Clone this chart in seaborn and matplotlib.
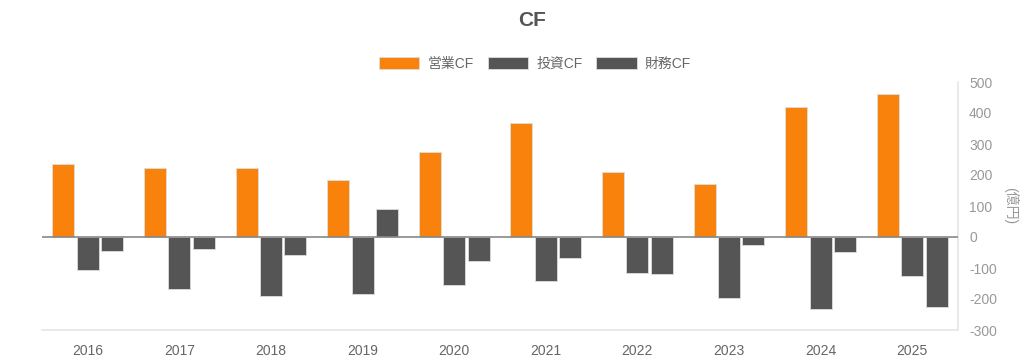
import numpy as np
import pandas as pd
import matplotlib
matplotlib.use("Agg")
import matplotlib.pyplot as plt
import seaborn as sns

# values (億円)
years = ["2016", "2017", "2018", "2019", "2020", "2021", "2022", "2023", "2024", "2025"]
operating_cf = [237, 221, 221, 183, 274, 367, 210, 171, 418, 461]
investing_cf = [-107, -167, -191, -183, -154, -143, -115, -197, -232, -127]
financing_cf = [-46, -38, -58, 89, -76, -68, -119, -27, -47, -225]
series_names = ["営業CF", "投資CF", "財務CF"]

df = pd.DataFrame({"year": years,
                   series_names[0]: operating_cf,
                   series_names[1]: investing_cf,
                   series_names[2]: financing_cf})
long_df = df.melt(id_vars="year", var_name="kind", value_name="value")

sns.set_theme(style="white")
plt.rcParams["font.family"] = ["Liberation Sans", "Noto Sans CJK JP", "DejaVu Sans"]
plt.rcParams["axes.unicode_minus"] = False

palette = {"営業CF": "#F8820B", "投資CF": "#555555", "財務CF": "#555555"}

fig = plt.figure(figsize=(10.24, 3.62), dpi=100)
ax = fig.add_axes([42 / 1024, 1 - 330 / 362, 916 / 1024, 248 / 362])

sns.barplot(data=long_df, x="year", y="value", hue="kind", hue_order=series_names,
            palette=palette, width=0.8, gap=0.1, edgecolor="#dddddd", linewidth=0.6,
            saturation=1, ax=ax, zorder=2)

ax.set_ylim(-300, 500)
ax.set_xlim(-0.5, len(years) - 0.5)
ax.set_yticks(np.arange(-300, 501, 100))
ax.yaxis.tick_right()
ax.tick_params(axis="y", length=0, pad=8, labelsize=10, labelcolor="#999999")
ax.tick_params(axis="x", length=0, pad=10, labelsize=10, labelcolor="#666666")
ax.set_xlabel("")
ax.set_ylabel("")

# unit label on the right, rotated like the reference
fig.text(1011 / 1024, 1 - 206 / 362, "(億円)", rotation=-90, ha="center", va="center",
         color="#999999", fontsize=10)

for side in ["left", "top"]:
    ax.spines[side].set_visible(False)
ax.spines["right"].set_color("#e6e6e6")
ax.spines["bottom"].set_color("#e6e6e6")
ax.axhline(0, color="#888888", linewidth=1.2, zorder=3)

handles, labels = ax.get_legend_handles_labels()
ax.get_legend().remove()
fig.legend(handles, labels, loc="center", bbox_to_anchor=(535 / 1024, 1 - 64 / 362),
           ncol=3, frameon=False, fontsize=10, handlelength=2.9, handleheight=1.0,
           handletextpad=0.6, columnspacing=1.0, labelcolor="#666666")

fig.text(0.52, 1 - 21 / 362, "CF", ha="center", va="center", fontsize=15,
         fontweight="bold", color="#555555")

fig.savefig("out.png", dpi=100)
